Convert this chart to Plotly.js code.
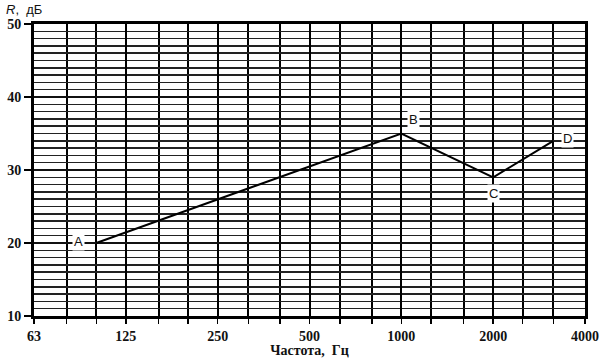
<!DOCTYPE html>
<html><head><meta charset="utf-8">
<script src="https://cdn.plot.ly/plotly-3.0.1.min.js"></script>
<style>body{margin:0;background:#fff}#c{width:600px;height:358px}</style>
</head><body><div id="c"></div>
<script>
const freqs = [100, 1000, 2000, 3150];
const levels = [20, 35, 29, 34];
const pointLabels = ['A', 'B', 'C', 'D'];
const xTickVals = [62.5, 125, 250, 500, 1000, 2000, 4000];
const xTickText = ['63', '125', '250', '500', '1000', '2000', '4000'];
const thirdOctaves = [62.5, 80, 100, 125, 160, 200, 250, 315, 400, 500, 630, 800, 1000, 1250, 1600, 2000, 2500, 3150, 4000];
const yTickVals = [10, 20, 30, 40, 50];

const font = {family: 'Liberation Serif, serif', size: 14, color: '#111', weight: 'bold'};
const labelOffsets = [[-18, 2], [12, 14], [0, -16], [14, 2]];

const annotations = pointLabels.map((t, i) => ({
  x: Math.log10(freqs[i]), y: levels[i], xref: 'x', yref: 'y', text: t,
  showarrow: false, bgcolor: '#fff', font: {family: 'Liberation Sans, sans-serif', size: 13, color: '#111'},
  xshift: labelOffsets[i][0], yshift: labelOffsets[i][1], borderpad: 1
}));
annotations.push({x: -0.055, y: 1.05, xref: 'paper', yref: 'paper', xanchor: 'left', yanchor: 'middle',
  text: '<i>R</i>,  дБ', showarrow: false, font: {family: 'Liberation Sans, sans-serif', size: 13, color: '#111'}});

Plotly.newPlot('c', [{
  x: freqs, y: levels, mode: 'lines', type: 'scatter',
  line: {color: '#000', width: 2}, hoverinfo: 'skip'
}], {
  width: 600, height: 358,
  margin: {l: 34, r: 15, t: 24, b: 42},
  paper_bgcolor: '#fff', plot_bgcolor: '#fff',
  showlegend: false,
  xaxis: {
    type: 'log', range: [Math.log10(62.5), Math.log10(4000)],
    tickmode: 'array', tickvals: xTickVals, ticktext: xTickText,
    showgrid: true, gridcolor: '#000', gridwidth: 2,
    ticks: 'outside', ticklen: 5, tickwidth: 1.5, tickcolor: '#000',
    minor: {tickmode: 'array', tickvals: thirdOctaves, showgrid: true, gridcolor: '#000', gridwidth: 2, ticks: 'outside', ticklen: 5, tickwidth: 1.5, tickcolor: '#000'},
    showline: true, linecolor: '#000', linewidth: 3, mirror: true,
    tickfont: font, zeroline: false,
    title: {text: 'Частота,  Гц', font: font, standoff: 2}
  },
  yaxis: {
    range: [10, 50], tickmode: 'array', tickvals: yTickVals,
    showgrid: true, gridcolor: '#111', gridwidth: 1.5,
    ticks: 'outside', ticklen: 7, tickwidth: 1.5, tickcolor: '#000',
    minor: {dtick: 1, showgrid: true, gridcolor: '#222', gridwidth: 1.5},
    showline: true, linecolor: '#000', linewidth: 3, mirror: true,
    tickfont: font, zeroline: false
  },
  annotations: annotations
}, {displayModeBar: false, staticPlot: true});
</script></body></html>
